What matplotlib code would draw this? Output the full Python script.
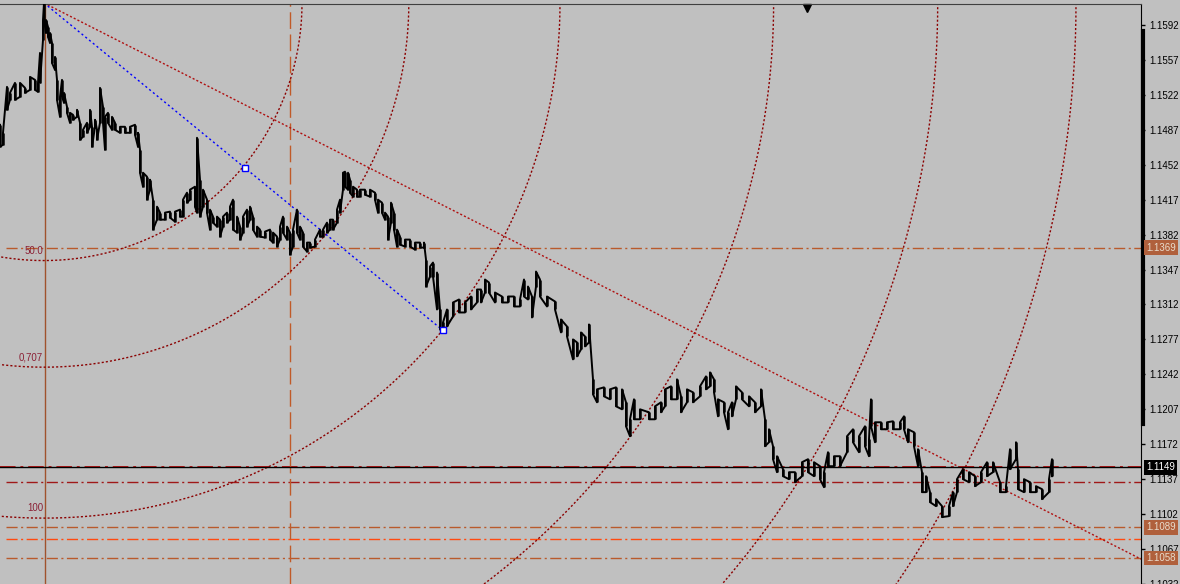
# EURUSD style chart with fibo arcs, trend lines and levels
import numpy as np
import matplotlib.pyplot as plt
from matplotlib.transforms import blended_transform_factory

# price series (bar position, high, low)
bars = [0, 3, 7, 10, 15, 20, 25, 30, 35, 38, 40, 43, 44, 46, 48, 50, 52, 55, 57, 60,
        62, 64, 67, 70, 73, 77, 80, 83, 87, 90, 92, 95, 97, 100, 103, 105, 108, 112, 115, 120,
        125, 130, 135, 138, 140, 143, 147, 150, 153, 157, 160, 165, 170, 175, 180, 183, 187, 190, 195, 197,
        200, 203, 207, 210, 213, 217, 220, 223, 227, 230, 233, 237, 240, 243, 247, 250, 253, 257, 260, 265,
        270, 273, 277, 280, 283, 287, 290, 293, 297, 300, 303, 307, 310, 315, 320, 323, 327, 330, 333, 337,
        340, 343, 345, 348, 350, 353, 357, 360, 365, 370, 375, 378, 382, 385, 388, 391, 394, 397, 400, 405,
        410, 415, 420, 424, 426, 430, 433, 437, 440, 443, 447, 453, 459, 465, 471, 477, 481, 485, 489, 495,
        502, 508, 514, 520, 524, 528, 532, 536, 540, 547, 555, 561, 567, 573, 577, 581, 585, 589, 593, 597,
        604, 610, 616, 622, 626, 630, 634, 640, 649, 655, 661, 665, 671, 677, 681, 687, 693, 700, 706, 710,
        714, 718, 724, 728, 732, 736, 742, 749, 755, 761, 765, 769, 773, 777, 783, 789, 795, 802, 808, 814,
        820, 824, 828, 834, 840, 847, 853, 859, 865, 869, 871, 875, 881, 887, 893, 900, 904, 908, 914, 918,
        922, 926, 930, 936, 942, 949, 953, 957, 963, 969, 975, 981, 987, 993, 1000, 1006, 1010, 1016, 1018, 1024,
        1030, 1036, 1042, 1049, 1052]
highs = [1.1492, 1.1484, 1.1530, 1.1524, 1.1534, 1.1534, 1.1529, 1.1540, 1.1537, 1.1534,
         1.1564, 1.1597, 1.1614, 1.1597, 1.1590, 1.1584, 1.1574, 1.1560, 1.1537, 1.1520,
         1.1537, 1.1524, 1.1510, 1.1504, 1.1502, 1.1507, 1.1494, 1.1487, 1.1494, 1.1507,
         1.1490, 1.1497, 1.1487, 1.1529, 1.1510, 1.1500, 1.1504, 1.1500, 1.1494, 1.1490,
         1.1490, 1.1490, 1.1492, 1.1484, 1.1467, 1.1444, 1.1440, 1.1437, 1.1417, 1.1410,
         1.1404, 1.1404, 1.1405, 1.1405, 1.1407, 1.1417, 1.1424, 1.1427, 1.1430, 1.1479,
         1.1437, 1.1427, 1.1417, 1.1407, 1.1400, 1.1400, 1.1397, 1.1400, 1.1404, 1.1410,
         1.1417, 1.1400, 1.1390, 1.1400, 1.1407, 1.1410, 1.1400, 1.1390, 1.1387, 1.1385,
         1.1387, 1.1384, 1.1380, 1.1390, 1.1400, 1.1390, 1.1384, 1.1387, 1.1407, 1.1390,
         1.1384, 1.1374, 1.1374, 1.1377, 1.1387, 1.1387, 1.1394, 1.1397, 1.1397, 1.1407,
         1.1417, 1.1444, 1.1445, 1.1444, 1.1437, 1.1430, 1.1427, 1.1427, 1.1427, 1.1427,
         1.1424, 1.1417, 1.1414, 1.1404, 1.1400, 1.1414, 1.1404, 1.1387, 1.1380, 1.1377,
         1.1377, 1.1374, 1.1374, 1.1374, 1.1357, 1.1350, 1.1354, 1.1344, 1.1307, 1.1294,
         1.1307, 1.1314, 1.1317, 1.1314, 1.1320, 1.1327, 1.1327, 1.1337, 1.1334, 1.1324,
         1.1320, 1.1320, 1.1320, 1.1317, 1.1337, 1.1330, 1.1320, 1.1345, 1.1337, 1.1320,
         1.1315, 1.1297, 1.1290, 1.1277, 1.1274, 1.1284, 1.1280, 1.1292, 1.1237, 1.1227,
         1.1229, 1.1227, 1.1229, 1.1227, 1.1214, 1.1197, 1.1217, 1.1207, 1.1204, 1.1210,
         1.1214, 1.1227, 1.1230, 1.1237, 1.1220, 1.1227, 1.1224, 1.1230, 1.1240, 1.1244,
         1.1237, 1.1217, 1.1214, 1.1204, 1.1214, 1.1230, 1.1224, 1.1220, 1.1214, 1.1227,
         1.1197, 1.1187, 1.1170, 1.1160, 1.1147, 1.1144, 1.1144, 1.1154, 1.1157, 1.1154,
         1.1150, 1.1144, 1.1164, 1.1160, 1.1160, 1.1180, 1.1187, 1.1180, 1.1190, 1.1177,
         1.1217, 1.1194, 1.1194, 1.1194, 1.1195, 1.1194, 1.1200, 1.1187, 1.1184, 1.1167,
         1.1144, 1.1140, 1.1124, 1.1117, 1.1110, 1.1110, 1.1124, 1.1137, 1.1147, 1.1144,
         1.1140, 1.1144, 1.1154, 1.1154, 1.1134, 1.1130, 1.1167, 1.1174, 1.1147, 1.1137,
         1.1134, 1.1130, 1.1127, 1.1137, 1.1157]
lows = [1.1470, 1.1472, 1.1507, 1.1517, 1.1517, 1.1520, 1.1524, 1.1527, 1.1527, 1.1525,
        1.1534, 1.1577, 1.1597, 1.1584, 1.1580, 1.1574, 1.1554, 1.1547, 1.1517, 1.1500,
        1.1520, 1.1514, 1.1504, 1.1494, 1.1497, 1.1500, 1.1477, 1.1480, 1.1484, 1.1490,
        1.1470, 1.1490, 1.1477, 1.1494, 1.1494, 1.1467, 1.1494, 1.1487, 1.1487, 1.1484,
        1.1484, 1.1484, 1.1482, 1.1470, 1.1444, 1.1430, 1.1417, 1.1427, 1.1387, 1.1397,
        1.1397, 1.1397, 1.1399, 1.1395, 1.1400, 1.1400, 1.1414, 1.1417, 1.1410, 1.1404,
        1.1400, 1.1410, 1.1404, 1.1387, 1.1394, 1.1390, 1.1380, 1.1390, 1.1394, 1.1397,
        1.1387, 1.1384, 1.1377, 1.1384, 1.1390, 1.1397, 1.1387, 1.1380, 1.1380, 1.1379,
        1.1377, 1.1374, 1.1370, 1.1377, 1.1384, 1.1377, 1.1362, 1.1370, 1.1384, 1.1377,
        1.1370, 1.1365, 1.1369, 1.1370, 1.1380, 1.1380, 1.1384, 1.1387, 1.1387, 1.1394,
        1.1404, 1.1427, 1.1430, 1.1427, 1.1424, 1.1420, 1.1420, 1.1420, 1.1422, 1.1420,
        1.1417, 1.1404, 1.1404, 1.1397, 1.1377, 1.1394, 1.1387, 1.1370, 1.1372, 1.1370,
        1.1370, 1.1367, 1.1369, 1.1369, 1.1330, 1.1340, 1.1340, 1.1307, 1.1287, 1.1284,
        1.1290, 1.1300, 1.1304, 1.1304, 1.1307, 1.1314, 1.1314, 1.1324, 1.1324, 1.1314,
        1.1314, 1.1314, 1.1310, 1.1310, 1.1320, 1.1317, 1.1299, 1.1330, 1.1320, 1.1310,
        1.1307, 1.1284, 1.1280, 1.1257, 1.1260, 1.1267, 1.1270, 1.1274, 1.1222, 1.1214,
        1.1220, 1.1217, 1.1210, 1.1207, 1.1190, 1.1180, 1.1197, 1.1197, 1.1197, 1.1197,
        1.1204, 1.1210, 1.1217, 1.1217, 1.1204, 1.1214, 1.1214, 1.1220, 1.1227, 1.1230,
        1.1224, 1.1200, 1.1204, 1.1187, 1.1200, 1.1217, 1.1217, 1.1210, 1.1204, 1.1210,
        1.1170, 1.1174, 1.1157, 1.1144, 1.1140, 1.1137, 1.1134, 1.1140, 1.1144, 1.1140,
        1.1137, 1.1129, 1.1150, 1.1150, 1.1150, 1.1164, 1.1174, 1.1164, 1.1170, 1.1160,
        1.1190, 1.1174, 1.1187, 1.1187, 1.1187, 1.1187, 1.1187, 1.1174, 1.1170, 1.1150,
        1.1124, 1.1124, 1.1114, 1.1110, 1.1099, 1.1100, 1.1110, 1.1124, 1.1137, 1.1134,
        1.1130, 1.1134, 1.1140, 1.1144, 1.1124, 1.1124, 1.1147, 1.1157, 1.1127, 1.1124,
        1.1124, 1.1124, 1.1117, 1.1124, 1.1140]

# right scale
tick_prices = [1.1032, 1.1067, 1.1102, 1.1137, 1.1172, 1.1207, 1.1242, 1.1277, 1.1312,
               1.1347, 1.1382, 1.1417, 1.1452, 1.1487, 1.1522, 1.1557, 1.1592]
bid = 1.1149

# horizontal levels: price, colour, tag shown on the scale
level_prices = [1.1369, 1.1134, 1.1089, 1.1077, 1.1058]
level_colors = ['#b95a2c', '#a01818', '#b95a2c', '#ff4a10', '#b95a2c']
level_tags = [True, False, True, False, True]

# trend lines (bar, price) pairs
trend_red = [(44, 1.1614), (1135, 1.1060)]
trend_blue = [(44, 1.1614), (443, 1.1286)]
blue_marks = [(245, 1.1449), (443, 1.1286)]

# fibo arcs around the high
arc_center = (44, 1.1614)
arc_bars = 516
arc_price = 0.0516
arc_levels = [0.5, 0.707, 1.0, 1.414, 1.732, 2.0]
arc_labels = {0.5: '50.0', 0.707: '0,707', 1.0: '100'}

vline_solid = 45
vline_dash = 290
marker_bar = 807
scale_bar = (1.1586, 1.1192)

bg = '#c0c0c0'
fig = plt.figure(figsize=(11.8, 5.84), dpi=100, facecolor=bg)
ax = fig.add_axes([0, 0, 1141 / 1180, 580 / 584], facecolor=bg)
ax.set_xlim(0, 1141)
ax.set_ylim(1.1033, 1.1613)

dashdot = (0, (8, 2.5, 1.5, 2.5))

# levels
for p, c in zip(level_prices, level_colors):
    ax.plot([6, 1141], [p, p], color=c, lw=1, linestyle=dashdot, zorder=2)
ax.plot([0, 1141], [bid, bid], color='#c01818', lw=1.4, linestyle=dashdot, zorder=2)
ax.axhline(bid, color='black', lw=1, zorder=4)

# verticals
ax.axvline(vline_solid, color='#a0522d', lw=1, zorder=2)
ax.axvline(vline_dash, color='#c05a28', lw=1, linestyle=(0, (12, 4)), zorder=2)

# arcs
t = np.linspace(0, np.pi, 600)
for lv in arc_levels:
    ax.plot(arc_center[0] + lv * arc_bars * np.cos(t),
            arc_center[1] - lv * arc_price * np.sin(t),
            color='#8b0000', lw=1, linestyle=(0, (1.5, 1.5)), zorder=2)
    if lv in arc_labels:
        ax.text(arc_center[0] - 1, arc_center[1] - lv * arc_price + 0.0010, arc_labels[lv],
                color='#8b2035', fontsize=7, ha='right', va='center', family='Liberation Sans')

# trend lines
(x0, y0), (x1, y1) = trend_red
slope = (y1 - y0) / (x1 - x0)
ax.plot([x0, 1141], [y0, y0 + slope * (1141 - x0)], color='#b01010', lw=1,
        linestyle=(0, (1.5, 1.5)), zorder=2)
ax.plot([p[0] for p in trend_blue], [p[1] for p in trend_blue], color='#0000ff', lw=1,
        linestyle=(0, (1.5, 2)), zorder=2)
ax.plot([p[0] for p in blue_marks], [p[1] for p in blue_marks], linestyle='none', marker='s',
        ms=4, mfc='white', mec='#0000ff', mew=1, zorder=5)

# price line: high-low bars plus a zigzag through them
ax.vlines(bars, lows, highs, color='black', lw=1.8, zorder=3)
xs, ys = [], []
for i, (b, h, l) in enumerate(zip(bars, highs, lows)):
    xs += [b, b]
    ys += [h, l] if i % 2 == 0 else [l, h]
ax.plot(xs, ys, color='black', lw=1.4, zorder=3)

# top marker
tr = blended_transform_factory(ax.transData, ax.transAxes)
ax.plot([marker_bar], [0.993], marker='v', color='black', ms=6, transform=tr, clip_on=False)

# axis look
for s in ['left', 'bottom']:
    ax.spines[s].set_visible(False)
ax.spines['top'].set_color('#404040')
ax.spines['right'].set_color('black')
ax.set_xticks([])
ax.yaxis.tick_right()
ax.set_yticks(tick_prices)
ax.set_yticklabels(['%.4f' % p for p in tick_prices])
ax.tick_params(axis='y', length=3, width=1, pad=3, labelsize=7, colors='black')
for lab in ax.get_yticklabels():
    lab.set_family('Liberation Sans')

# thick part of the scale
tr2 = blended_transform_factory(ax.transAxes, ax.transData)
ax.plot([1.0015, 1.0015], list(scale_bar), color='black', lw=3, transform=tr2, clip_on=False)

# price tags on the scale
for p, c, tag in zip(level_prices, level_colors, level_tags):
    if tag:
        ax.text(1.0045, p, '%.4f' % p, transform=tr2, fontsize=7, family='Liberation Sans',
                color='#e8dccc', va='center', ha='left',
                bbox=dict(boxstyle='square,pad=0.25', fc='#b0603c', ec='none'))
ax.text(1.0045, bid, '%.4f' % bid, transform=tr2, fontsize=7, family='Liberation Sans',
        color='white', va='center', ha='left',
        bbox=dict(boxstyle='square,pad=0.25', fc='black', ec='none'))

fig.savefig('out.png', dpi=100, facecolor=bg)
